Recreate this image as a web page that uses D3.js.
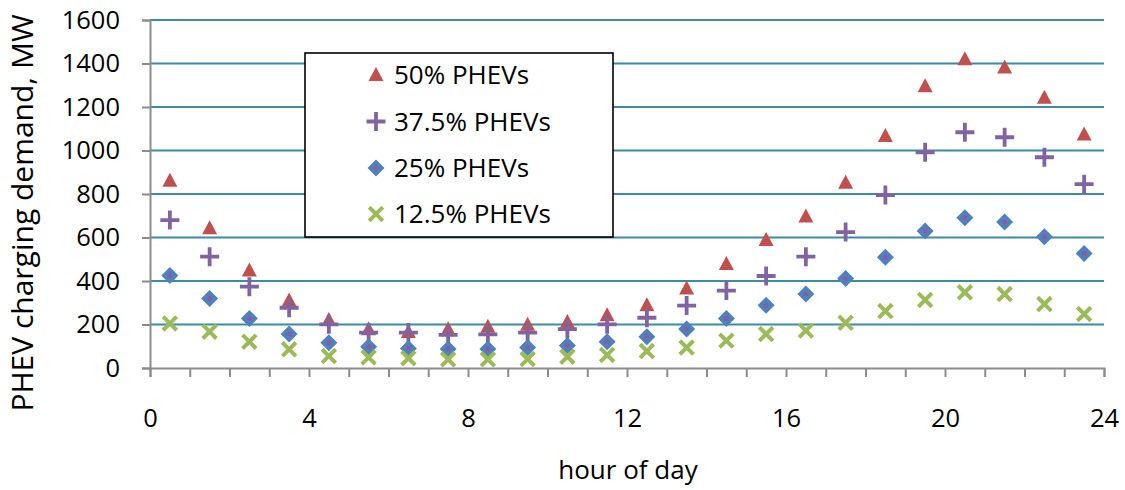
<!DOCTYPE html>
<html>
<head>
<meta charset="utf-8">
<script src="https://cdn.jsdelivr.net/npm/d3@7"></script>
<style>
  html, body { margin: 0; padding: 0; background: #fff; }
  svg { display: block; font-family: "Open Sans", "Liberation Sans", sans-serif; }
</style>
</head>
<body>
<svg id="chart" width="1125" height="490"></svg>
<script>
// Hourly charging demand (MW) at the half hour, for four PHEV penetration levels
const hours = [0.5, 1.5, 2.5, 3.5, 4.5, 5.5, 6.5, 7.5, 8.5, 9.5, 10.5, 11.5,
               12.5, 13.5, 14.5, 15.5, 16.5, 17.5, 18.5, 19.5, 20.5, 21.5, 22.5, 23.5];
const phev50 = [861, 642, 448, 310, 221, 178, 166, 178, 190, 199, 211, 242,
                288, 366, 478, 589, 697, 852, 1067, 1295, 1420, 1382, 1243, 1074];
const phev375 = [680, 512, 374, 277, 201, 163, 163, 152, 155, 163, 179, 201,
                 231, 287, 356, 423, 512, 625, 795, 992, 1084, 1061, 969, 845];
const phev25 = [425, 320, 228, 156, 116, 98, 90, 87, 87, 94, 103, 121,
                144, 179, 228, 288, 340, 411, 509, 630, 691, 671, 604, 527];
const phev125 = [205, 167, 121, 86, 55, 49, 45, 40, 40, 41, 52, 60,
                 78, 94, 126, 156, 172, 208, 262, 313, 348, 340, 294, 248];
const seriesNames = ["50% PHEVs", "37.5% PHEVs", "25% PHEVs", "12.5% PHEVs"];
const yTicks = [0, 200, 400, 600, 800, 1000, 1200, 1400, 1600];
const xLabelTicks = [0, 4, 8, 12, 16, 20, 24];

const svg = d3.select("#chart");
const FONT = 25.5;

const x = d3.scaleLinear().domain([0, 24]).range([150, 1104]);
const y = d3.scaleLinear().domain([0, 1600]).range([368, 20]);

// horizontal gridlines
svg.append("g").selectAll("line").data(yTicks.filter(d => d > 0)).join("line")
  .attr("x1", x(0)).attr("x2", x(24))
  .attr("y1", d => y(d)).attr("y2", d => y(d))
  .attr("stroke", "#3d8ca4").attr("stroke-width", 2);

// y axis
const yAxis = svg.append("g").attr("transform", `translate(${x(0)},0)`)
  .call(d3.axisLeft(y).tickValues(yTicks).tickSize(8).tickPadding(22).tickFormat(d3.format("d")));
yAxis.select(".domain").attr("stroke", "#8c8c8c").attr("stroke-width", 2);
yAxis.selectAll(".tick line").attr("stroke", "#8c8c8c").attr("stroke-width", 2);
yAxis.selectAll("text").attr("font-size", FONT).attr("fill", "#000")
  .attr("font-family", "Open Sans, sans-serif");

// x axis: a tick every hour, labels every four hours
const xAxis = svg.append("g").attr("transform", `translate(0,${y(0)})`)
  .call(d3.axisBottom(x).tickValues(d3.range(0, 25)).tickSize(9)
    .tickFormat(d => xLabelTicks.includes(d) ? d : ""));
xAxis.select(".domain").attr("stroke", "#8c8c8c").attr("stroke-width", 2);
xAxis.selectAll(".tick line").attr("stroke", "#8c8c8c").attr("stroke-width", 2);
xAxis.selectAll("text").attr("font-size", FONT).attr("fill", "#000")
  .attr("font-family", "Open Sans, sans-serif")
  .attr("y", 59).attr("dy", null);

// marker shapes
const sym = {
  triangle: (g, c) => g.append("path")
    .attr("d", "M0,-8 L7.5,6 L-7.5,6 Z").attr("fill", c),
  plus: (g, c) => g.append("path")
    .attr("d", "M-9.5,0 H9.5 M0,-9.5 V9.5").attr("stroke", c).attr("stroke-width", 3.8).attr("fill", "none"),
  diamond: (g, c) => {
    g.append("path").attr("d", "M0,-8.5 L8.5,0 L0,8.5 L-8.5,0 Z").attr("fill", c);
    g.append("circle").attr("r", 2.4).attr("fill", "#8a5aa6");
  },
  cross: (g, c) => g.append("path")
    .attr("d", "M-6.8,-6.8 L6.8,6.8 M-6.8,6.8 L6.8,-6.8").attr("stroke", c).attr("stroke-width", 4).attr("fill", "none")
};

const series = [
  { name: seriesNames[0], values: phev50, shape: "triangle", color: "#c0504d" },
  { name: seriesNames[1], values: phev375, shape: "plus", color: "#8064a2" },
  { name: seriesNames[2], values: phev25, shape: "diamond", color: "#4f81bd" },
  { name: seriesNames[3], values: phev125, shape: "cross", color: "#9bbb59" }
];

series.forEach(s => {
  const g = svg.append("g");
  hours.forEach((h, i) => {
    const m = g.append("g").attr("transform", `translate(${x(h)},${y(s.values[i])})`);
    sym[s.shape](m, s.color);
  });
});

// legend
const legend = svg.append("g");
legend.append("rect").attr("x", 305).attr("y", 53).attr("width", 308).attr("height", 184)
  .attr("fill", "#fff").attr("stroke", "#000").attr("stroke-width", 1.6);
const rowY = [75, 121.5, 168, 214];
series.forEach((s, i) => {
  const m = legend.append("g").attr("transform", `translate(376,${rowY[i]})`);
  sym[s.shape](m, s.color);
  legend.append("text").attr("x", 394).attr("y", rowY[i] + 9)
    .attr("font-size", 26).attr("fill", "#000").text(s.name);
});

// axis titles
svg.append("text").attr("transform", "translate(33,213) rotate(-90)")
  .attr("text-anchor", "middle").attr("font-size", 30).attr("fill", "#000")
  .text("PHEV charging demand, MW");
svg.append("text").attr("x", 628).attr("y", 479)
  .attr("text-anchor", "middle").attr("font-size", 26).attr("fill", "#000")
  .text("hour of day");
</script>
</body>
</html>
